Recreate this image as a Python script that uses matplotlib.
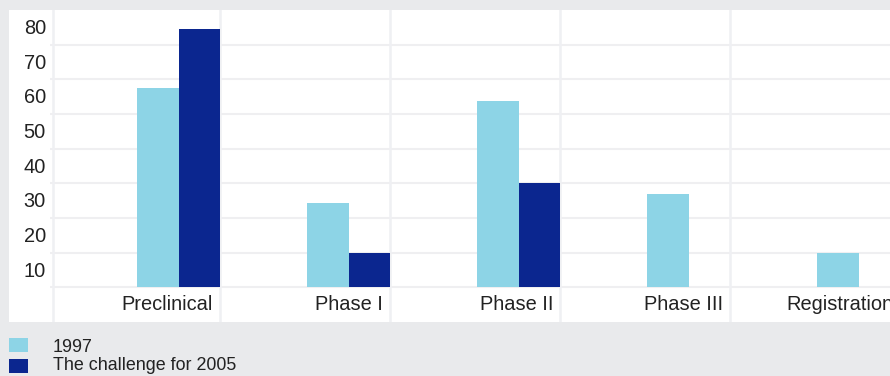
import matplotlib
matplotlib.use("Agg")
import matplotlib.pyplot as plt

# Pipeline counts by development stage
categories = ["Preclinical", "Phase I", "Phase II", "Phase III", "Registration"]
series_1997 = [57.6, 24.4, 53.8, 27.0, 10.0]
series_2005 = [74.6, 10.0, 30.0, 0.0, 0.0]
series_names = ["1997", "The challenge for 2005"]
y_ticks = [10, 20, 30, 40, 50, 60, 70, 80]

LIGHT = "#8dd4e6"
DARK = "#0b268f"
BG = "#e9eaec"
GRID_H = "#efeff1"
GRID_V = "#eff0f3"
TEXT = "#222222"
FONT = "Liberation Sans"

W, H = 890, 376
fig = plt.figure(figsize=(W / 100, H / 100), dpi=100)
fig.patch.set_facecolor(BG)


def fx(px):
    return px / W


def fy(py):
    return 1 - py / H


# white chart panel
panel = fig.add_axes([fx(9), fy(322), fx(W - 9), (322 - 10) / H], zorder=0)
panel.set_facecolor("white")
panel.set_xticks([])
panel.set_yticks([])
for s in panel.spines.values():
    s.set_visible(False)

slot = 170.0
left_px = 50.0
ax = fig.add_axes([fx(left_px), fy(322), fx(W - left_px), (322 - 10) / H], zorder=2)
ax.set_facecolor("none")
ax.set_xlim(0, (W - left_px) / slot)
ax.set_ylim(-10, 80)
for s in ax.spines.values():
    s.set_visible(False)
ax.set_xticks([])
ax.set_yticks([])

# grid
for v in range(0, 80, 10):
    ax.axhline(v, color=GRID_H, lw=1.5, zorder=1)
ax.axvline(3 / slot, color=GRID_V, lw=1.8, zorder=1)
for k in range(1, len(categories)):
    ax.axvline(k, color=GRID_V, lw=1.8, zorder=1)

bw = 41.5 / slot
for i, (a, b) in enumerate(zip(series_1997, series_2005)):
    right = i + 1
    if a > 0:
        ax.bar(right - 2 * bw, a, width=bw, align="edge", color=LIGHT, zorder=2)
    if b > 0:
        ax.bar(right - bw, b, width=bw, align="edge", color=DARK, zorder=2)
    ax.text(right - 7 / slot, -5, categories[i], ha="right", va="center",
            fontsize=14.4, color=TEXT, family=FONT, zorder=3)

# y labels sit inside the band below each gridline value
for v in y_ticks:
    ax.text(-4 / slot, v - 5.3, str(v), ha="right", va="center",
            fontsize=14.4, color=TEXT, family=FONT, clip_on=False)

# legend
colors = [LIGHT, DARK]
ys = [338, 359]
text_y = [348, 366]
leg = fig.add_axes([0, 0, 1, 1], zorder=3)
leg.set_xlim(0, W)
leg.set_ylim(H, 0)
leg.set_axis_off()
for name, c, y0, ty in zip(series_names, colors, ys, text_y):
    leg.add_patch(plt.Rectangle((9, y0), 19, 14, facecolor=c, edgecolor="none"))
    leg.text(53, ty, name, ha="left", va="center",
             fontsize=12.9, color=TEXT, family=FONT)

fig.savefig("out.png", dpi=100, facecolor=BG)
